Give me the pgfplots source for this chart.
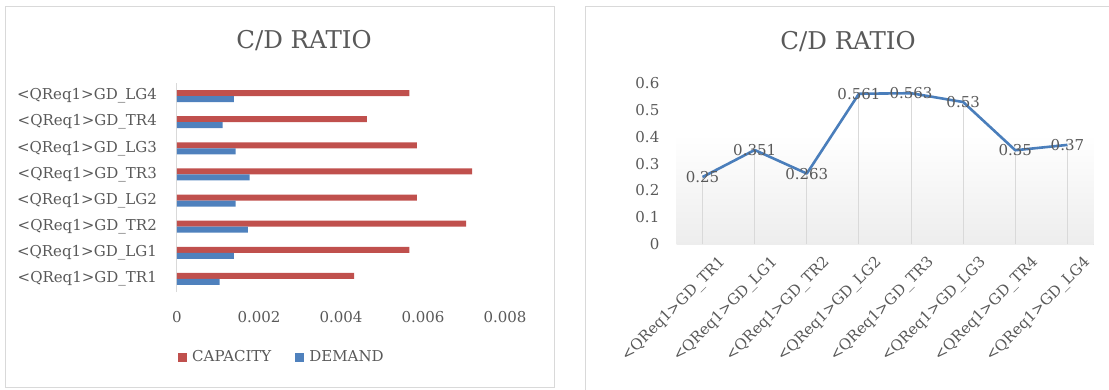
\documentclass[border=0pt]{standalone}
\usepackage{pgfplots}
\pgfplotsset{compat=1.18}
\usepackage{fontspec}
\setmainfont{DejaVu Serif}

\definecolor{capred}{HTML}{C0504D}
\definecolor{demblue}{HTML}{4F81BD}
\definecolor{lineblue}{HTML}{4A7EBB}
\definecolor{textgray}{HTML}{595959}
\definecolor{framegray}{HTML}{D9D9D9}

\newcommand{\lblfont}{\fontsize{15}{18}\selectfont}
\newcommand{\ttlfont}{\fontsize{24.5}{29}\selectfont}

% capacity and demand per element (bottom to top)
\pgfplotstableread{
idx capacity demand
0 0.00432 0.00104
1 0.00567 0.00139
2 0.00705 0.00173
3 0.00585 0.00143
4 0.00720 0.00177
5 0.00585 0.00143
6 0.00463 0.00111
7 0.00567 0.00139
}\cdtable

% C/D ratio per element
\pgfplotstableread{
idx ratio
0 0.25
1 0.351
2 0.263
3 0.561
4 0.563
5 0.53
6 0.35
7 0.37
}\ratiotable

\pgfplotsset{
  /pgf/number format/assume math mode=true,
  every axis/.append style={
    scale only axis,
    enlargelimits=false,
    major tick length=0pt,
    tick style={draw=none},
    tick label style={font=\lblfont, text=textgray, inner sep=0pt},
  },
}

\begin{document}
\begin{tikzpicture}[x=1pt,y=1pt]
\useasboundingbox (0,0) rectangle (1109,389);

% chart frames
\draw[framegray, line width=1pt] (5.5,1.5) rectangle (554,382.5);
\draw[framegray, line width=1pt] (585,-2) -- (585,382.5) -- (1112,382.5);

% titles
\node[anchor=base, text=textgray, font=\ttlfont, inner sep=0pt] at (304,340.7) {C/D RATIO};
\node[anchor=base, text=textgray, font=\ttlfont, inner sep=0pt] at (848,339) {C/D RATIO};

% ---- capacity vs demand bars ----
\begin{axis}[
  at={(177pt,97pt)}, anchor=south west,
  width=328pt, height=209pt,
  xbar, bar width=6pt,
  xmin=0, xmax=0.008, ymin=-0.5, ymax=7.5,
  scaled x ticks=false,
  xtick={0,0.002,0.004,0.006,0.008},
  xticklabels={0,0.002,0.004,0.006,0.008},
  ytick={0,...,7},
  yticklabels={<QReq1>GD\_TR1,<QReq1>GD\_LG1,<QReq1>GD\_TR2,<QReq1>GD\_LG2,
               <QReq1>GD\_TR3,<QReq1>GD\_LG3,<QReq1>GD\_TR4,<QReq1>GD\_LG4},
  xticklabel style={anchor=north, yshift=-19pt},
  yticklabel style={anchor=east, xshift=-20pt},
  axis lines*=left,
  x axis line style={draw=none},
  y axis line style={draw=framegray, line width=1pt},
  legend style={at={(0.32,-0.311)}, anchor=center, draw=none, fill=none,
    font=\lblfont, text=textgray, legend columns=2, inner sep=0pt,
    /tikz/every even column/.append style={column sep=22pt},
    /tikz/every odd column/.append style={column sep=3pt}},
  legend image code/.code={\fill[#1,draw=none] (0pt,-4.5pt) rectangle (9pt,4.5pt);},
]
\addplot[fill=capred, draw=none, bar shift=3pt] table[x=capacity, y=idx] {\cdtable};
\addlegendentry{CAPACITY}
\addplot[fill=demblue, draw=none, bar shift=-3pt] table[x=demand, y=idx] {\cdtable};
\addlegendentry{DEMAND}
\end{axis}

% ---- C/D ratio line ----
\begin{axis}[
  at={(676.5pt,145pt)}, anchor=south west,
  width=417pt, height=160.7pt,
  xmin=-0.5, xmax=7.5, ymin=0, ymax=0.6,
  clip=false,
  xtick={0,...,7},
  xticklabels={<QReq1>GD\_TR1,<QReq1>GD\_LG1,<QReq1>GD\_TR2,<QReq1>GD\_LG2,
               <QReq1>GD\_TR3,<QReq1>GD\_LG3,<QReq1>GD\_TR4,<QReq1>GD\_LG4},
  ytick={0,0.1,...,0.6},
  yticklabels={0,0.1,0.2,0.3,0.4,0.5,0.6},
  xticklabel style={rotate=45, anchor=east, xshift=3pt, yshift=-26pt},
  yticklabel style={anchor=east, xshift=-17pt},
  axis lines*=left,
  y axis line style={draw=none},
  x axis line style={draw=framegray, line width=1pt},
]
% soft backdrop band
\addplot[draw=none, top color=white, bottom color=black!7] coordinates {(-0.5,0.41) (7.5,0.41)} \closedcycle;
% drop lines
\addplot[ycomb, draw=framegray, line width=1pt, mark=none] table[x=idx, y=ratio] {\ratiotable};
% ratio line with value labels
\addplot[lineblue, line width=2.6pt, line join=round, mark=none,
  nodes near coords={\pgfmathprintnumber[precision=3]{\pgfplotspointmeta}},
  every node near coord/.append style={anchor=center, font=\lblfont, text=textgray, inner sep=0pt},
] table[x=idx, y=ratio] {\ratiotable};
\end{axis}
\end{tikzpicture}
\end{document}
